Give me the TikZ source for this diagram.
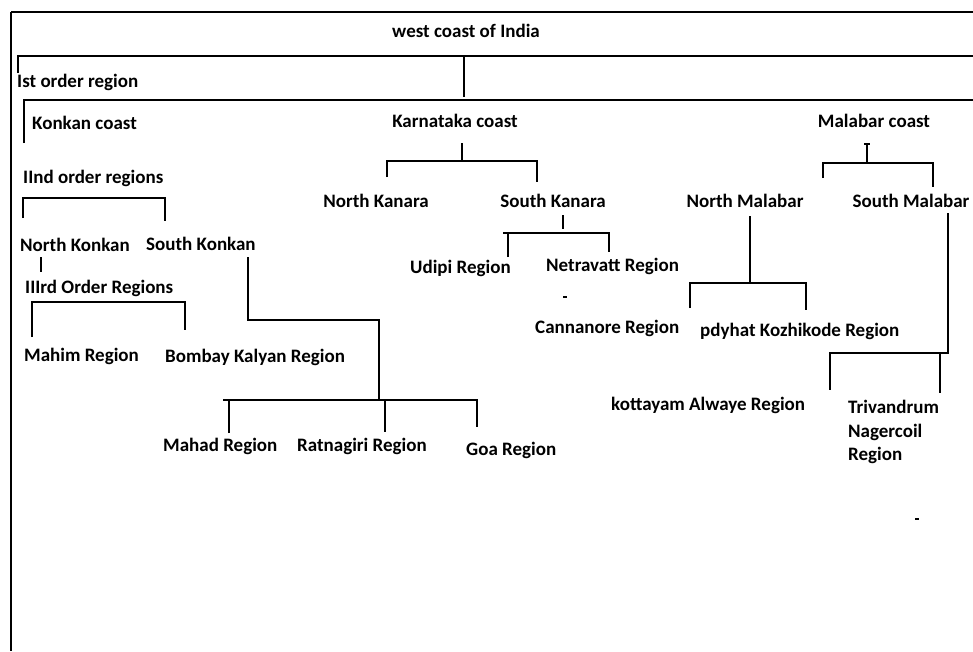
\documentclass[tikz,border=0pt]{standalone}
\usepackage{fontspec}
\setmainfont{Carlito}
\begin{document}
\begin{tikzpicture}[x=1pt,y=-1pt,
  lbl/.style={font=\bfseries\fontsize{19}{23.5}\selectfont, inner sep=0pt, text=black, text height=0.7em, text depth=0.2em, yshift=-3pt},
  lblw/.style={lbl, anchor=west},
  ln/.style={line width=1.5pt, black}]
\useasboundingbox[fill=white] (0,0) rectangle (973,651);
% frame
\draw[ln] (11,12) -- (973,12);
\draw[ln] (11,12) -- (11,651);
% texts
\node[lbl] (root) at (466,32) {west coast of India};
\node[lblw] (first) at (17,82) {Ist order region};
\node[lblw] (konkan) at (32,124) {Konkan coast};
\node[lbl] (karnataka) at (455,122) {Karnataka coast};
\node[lbl] (malabar) at (874,122) {Malabar coast};
\node[lblw] (second) at (23,178) {IInd order regions};
\node[lbl] (nkanara) at (376,202) {North Kanara};
\node[lbl] (skanara) at (553,202) {South Kanara};
\node[lbl] (nmalabar) at (745,202) {North Malabar};
\node[lbl] (smalabar) at (911,202) {South Malabar};
\node[lblw] (nkonkan) at (20,246) {North Konkan};
\node[lblw] (skonkan) at (146,245) {South Konkan};
\node[lblw] (udipi) at (410,268) {Udipi Region};
\node[lblw] (netravatt) at (546,266) {Netravatt Region};
\node[lblw] (third) at (25,288) {IIIrd Order Regions};
\node[lblw] (cannanore) at (535,328) {Cannanore Region};
\node[lblw] (kozhikode) at (700,331) {pdyhat Kozhikode Region};
\node[lblw] (mahim) at (24,356) {Mahim Region};
\node[lblw] (bombay) at (165,357) {Bombay Kalyan Region};
\node[lblw] (kottayam) at (611,405) {kottayam Alwaye Region};
\node[lblw] (trivandrum) at (848,408) {Trivandrum};
\node[lblw] (nagercoil) at (848,432) {Nagercoil};
\node[lblw] (trivregion) at (848,455) {Region};
\node[lblw] (mahad) at (163,446) {Mahad Region};
\node[lblw] (ratnagiri) at (297,446) {Ratnagiri Region};
\node[lblw] (goa) at (466,450) {Goa Region};
% 1st order
\draw[ln] (18,73) -- (18,56) -- (973,56);
\draw[ln] (464,56) -- (464,97);
\draw[ln] (24,143) -- (24,100) -- (973,100);
% Karnataka
\draw[ln] (462,143) -- (462,160);
\draw[ln] (387,177) -- (387,161) -- (537,161) -- (537,182);
% Malabar
\draw[ln] (867,144) -- (867,162);
\draw[ln] (864,144) -- (870,144);
\draw[ln] (823,178) -- (823,163) -- (933,163) -- (933,187);
% IInd order
\draw[ln] (23,218) -- (23,198) -- (165,198) -- (165,221);
\draw[ln] (41,257) -- (41,272);
% IIIrd order
\draw[ln] (32,337) -- (32,302) -- (185,302) -- (185,330);
% South Konkan
\draw[ln] (248,257) -- (248,320) -- (379,320) -- (379,400);
\draw[ln] (229,433) -- (229,400);
\draw[ln] (223,400) -- (477,400) -- (477,427);
\draw[ln] (385,400) -- (385,432);
% South Kanara
\draw[ln] (563,215) -- (563,229);
\draw[ln] (508,257) -- (508,233);
\draw[ln] (503,233) -- (609,233) -- (609,252);
% North Malabar
\draw[ln] (750,216) -- (750,283);
\draw[ln] (690,308) -- (690,283) -- (806,283) -- (806,310);
% South Malabar
\draw[ln] (948,213) -- (948,353) -- (830,353) -- (830,390);
\draw[ln] (940,353) -- (940,393);
% stray marks
\draw[ln] (563,297) -- (567,297);
\draw[ln] (915,519) -- (919,519);
\end{tikzpicture}
\end{document}
